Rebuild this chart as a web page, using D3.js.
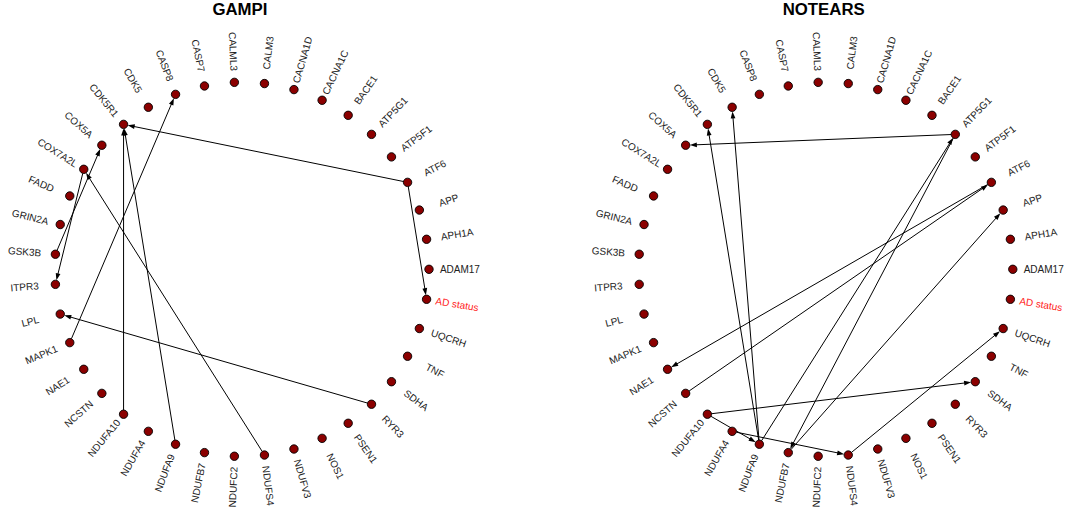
<!DOCTYPE html>
<html>
<head>
<meta charset="utf-8">
<script src="https://cdn.jsdelivr.net/npm/d3@7"></script>
<style>
  html, body { margin: 0; padding: 0; background: #fff; }
  svg { display: block; }
</style>
</head>
<body>
<svg id="chart" width="1065" height="510"></svg>
<script>
// Nodes in circular order (counter-clockwise, starting at 3 o'clock)
const genes = [
  "ADAM17", "APH1A", "APP", "ATF6", "ATP5F1", "ATP5G1", "BACE1", "CACNA1C",
  "CACNA1D", "CALM3", "CALML3", "CASP7", "CASP8", "CDK5", "CDK5R1", "COX5A",
  "COX7A2L", "FADD", "GRIN2A", "GSK3B", "ITPR3", "LPL", "MAPK1", "NAE1",
  "NCSTN", "NDUFA10", "NDUFA4", "NDUFA9", "NDUFB7", "NDUFC2", "NDUFS4",
  "NDUFV3", "NOS1", "PSEN1", "RYR3", "SDHA", "TNF", "UQCRH", "AD status"
];

// Directed edges [from, to] learned by each method
const gampiEdges = [
  ["ATF6", "CDK5R1"],
  ["ATF6", "AD status"],
  ["NDUFA10", "CDK5R1"],
  ["NDUFA9", "CDK5R1"],
  ["GSK3B", "COX5A"],
  ["COX7A2L", "ITPR3"],
  ["NDUFS4", "COX7A2L"],
  ["MAPK1", "CASP8"],
  ["RYR3", "LPL"]
];

const notearsEdges = [
  ["ATP5G1", "COX5A"],
  ["NDUFA9", "CDK5R1"],
  ["NDUFA9", "CDK5"],
  ["NDUFA9", "ATP5G1"],
  ["ATP5G1", "NDUFB7"],
  ["NDUFB7", "APP"],
  ["NCSTN", "ATF6"],
  ["ATF6", "NAE1"],
  ["NDUFA10", "NDUFA9"],
  ["NDUFA10", "SDHA"],
  ["NDUFA4", "NDUFS4"],
  ["NDUFS4", "UQCRH"]
];

const panelTitles = ["GAMPI", "NOTEARS"];
const highlighted = "AD status";

// Layout
const cy = 269.3;
const ringR = 187.1;
const labelR = 218;
const nodeR = 4.2;
const arrowLen = 7;
const arrowHalf = 2.4;
const panels = [
  { title: panelTitles[0], edges: gampiEdges, cx: 241.9 },
  { title: panelTitles[1], edges: notearsEdges, cx: 825.7 }
];

const svg = d3.select("#chart");

// index -> angle (degrees, counter-clockwise from east)
const angle = d3.scaleLinear().domain([0, genes.length]).range([0, 360]);
const index = new Map(genes.map((g, i) => [g, i]));

panels.forEach(p => {
  const g = svg.append("g");

  const pos = (name, R) => {
    const a = angle(index.get(name)) * Math.PI / 180;
    return [p.cx + R * Math.cos(a), cy - R * Math.sin(a)];
  };

  // Title
  g.append("text")
    .attr("x", p.cx - 2)
    .attr("y", 15)
    .attr("text-anchor", "middle")
    .attr("font-family", "Liberation Sans, Arial, sans-serif")
    .attr("font-weight", "bold")
    .attr("font-size", 16.8)
    .attr("fill", "#000")
    .text(p.title);

  // Edges with arrowheads, clipped at node borders
  const edgeG = g.append("g");
  p.edges.forEach(([from, to]) => {
    const s = pos(from, ringR), t = pos(to, ringR);
    const dx = t[0] - s[0], dy = t[1] - s[1];
    const len = Math.hypot(dx, dy);
    const ux = dx / len, uy = dy / len;
    const start = [s[0] + ux * nodeR, s[1] + uy * nodeR];
    const tip = [t[0] - ux * nodeR, t[1] - uy * nodeR];
    const base = [tip[0] - ux * arrowLen, tip[1] - uy * arrowLen];
    edgeG.append("line")
      .attr("x1", start[0]).attr("y1", start[1])
      .attr("x2", base[0] + ux * 1.5).attr("y2", base[1] + uy * 1.5)
      .attr("stroke", "#000")
      .attr("stroke-width", 1);
    const px = -uy, py = ux;
    edgeG.append("path")
      .attr("d", d3.line()([
        tip,
        [base[0] + px * arrowHalf, base[1] + py * arrowHalf],
        [base[0] - px * arrowHalf, base[1] - py * arrowHalf]
      ]) + "Z")
      .attr("fill", "#000");
  });

  // Nodes
  g.append("g").selectAll("circle")
    .data(genes)
    .join("circle")
    .attr("cx", d => pos(d, ringR)[0])
    .attr("cy", d => pos(d, ringR)[1])
    .attr("r", nodeR)
    .attr("fill", "#8b0000")
    .attr("stroke", "#000")
    .attr("stroke-width", 0.9);

  // Radial labels, flipped on the left half so they stay readable
  g.append("g").selectAll("text")
    .data(genes)
    .join("text")
    .attr("transform", d => {
      const [x, y] = pos(d, labelR);
      const a = angle(index.get(d));
      const right = Math.cos(a * Math.PI / 180) >= 0;
      const rot = right ? -a : 180 - a;
      return `translate(${x},${y}) rotate(${rot})`;
    })
    .attr("text-anchor", "middle")
    .attr("dominant-baseline", "central")
    .attr("font-family", "Liberation Sans, Arial, sans-serif")
    .attr("font-size", 10)
    .attr("fill", d => d === highlighted ? "#ff2020" : "#222")
    .text(d => d);
});
</script>
</body>
</html>
